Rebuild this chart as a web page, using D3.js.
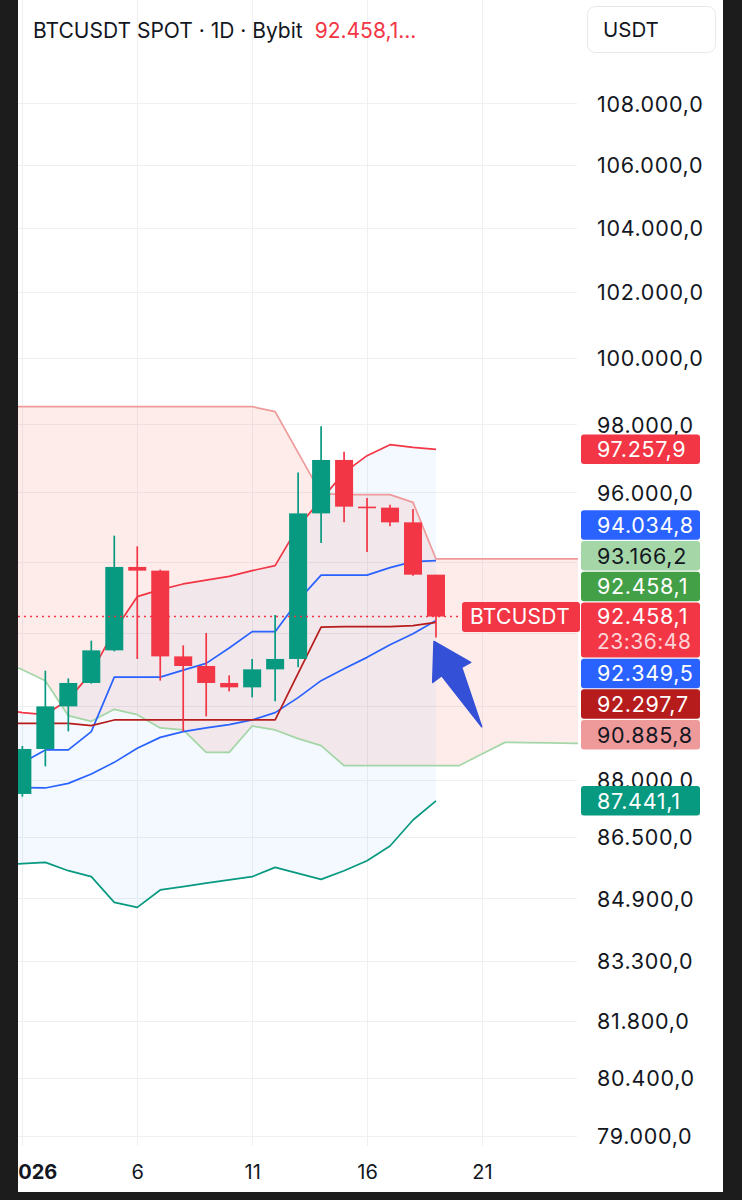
<!DOCTYPE html>
<html>
<head>
<meta charset="utf-8">
<script src="https://cdn.jsdelivr.net/npm/d3@7"></script>
<style>
html, body { margin: 0; padding: 0; background: #fff; }
svg { display: block; font-family: Inter, "Noto Sans", sans-serif; }
</style>
</head>
<body>
<div id="chart"></div>
<script>
var w = 742;
var h = 1200;

// daily bars, day of January 2026
var days  = [1, 2, 3, 4, 5, 6, 7, 8, 9, 10, 11, 12, 13, 14, 15, 16, 17, 18, 19];
var open  = [87624, 88825, 89978, 90618, 91517, 93857, 93752, 91350, 91085, 90618, 90498, 90992, 91279, 95392, 96947, 95586, 95557, 95133, 93638];
var high  = [88906, 90956, 90744, 91786, 94750, 94444, 93780, 91655, 92000, 90827, 91279, 92503, 96583, 97938, 97191, 95837, 95643, 95519, 93638];
var low   = [87552, 88359, 89300, 90600, 91489, 91279, 90681, 89300, 89706, 90388, 90224, 90115, 91047, 94541, 95133, 94283, 95018, 93610, 91877];
var close = [88825, 89978, 90618, 91517, 93857, 93752, 91350, 91085, 90618, 90498, 90992, 91279, 95392, 96947, 95586, 95557, 95133, 93638, 92458.1];

// indicator values (0 = Dec 31)
var indDays    = [0, 1, 2, 3, 4, 5, 6, 7, 8, 9, 10, 11, 12, 13, 14, 15, 16, 17, 18, 19];
var bbUpper    = [89916, 89807, 89752, 90161, 90901, 92064, 93017, 93214, 93375, 93482, 93590, 93752, 93894, 95009, 95788, 96575, 97073, 97397, 97317, 97257.9];
var bbBasis    = [87804, 87791, 87783, 87905, 88156, 88466, 88842, 89138, 89292, 89392, 89481, 89609, 89807, 90216, 90681, 91011, 91323, 91675, 91980, 92349.5];
var bbLower    = [85768, 85794, 85828, 85612, 85457, 84795, 84667, 85114, 85201, 85289, 85374, 85457, 85698, 85543, 85387, 85612, 85872, 86255, 86936, 87441.1];
var conversion = [88297, 88458, 88799, 88799, 89292, 90777, 90777, 90777, 90970, 91157, 91583, 92036, 92036, 92904, 93624, 93624, 93624, 93837, 94007, 94034.8];
var baseLine   = [89516, 89516, 89516, 89516, 89454, 89609, 89609, 89609, 89609, 89609, 89609, 89609, 89609, 90882, 92162, 92176, 92176, 92176, 92204, 92297.7];

// ichimoku cloud, shifted forward
var cloudDays = [0, 1, 2, 3, 4, 5, 6, 7, 8, 9, 10, 11, 12, 13, 14, 15, 16, 17, 18, 19, 20, 21, 22, 23, 24, 25, 26];
var leadA = [91232, 90984, 90681, 89725, 89571, 89897, 89752, 89392, 89338, 88734, 88734, 89446, 89338, 89103, 88914, 88377, 88377, 88377, 88377, 88377, 88377, 88691, 89003, 88995, 88987, 88976, 88968];
var leadB = [98524, 98524, 98524, 98524, 98524, 98524, 98524, 98524, 98524, 98524, 98524, 98524, 98375, 97161, 95963, 95934, 95934, 95934, 95710, 94084, 94084, 94084, 94084, 94084, 94084, 94084, 94084];

// price scale labels
var tagValues = [97257.9, 94034.8, 93166.2, 92458.1, 92349.5, 92297.7, 90885.8, 87441.1];
var tagColors = ["#f23645", "#2962ff", "#a5d6a7", "#43a047", "#2962ff", "#b71c1c", "#ef9a9a", "#089981"];
var tagInk    = ["#fff", "#fff", "#131722", "#fff", "#fff", "#fff", "#131722", "#fff"];
var countdown = "23:36:48";

var yTicks = [108000, 106000, 104000, 102000, 100000, 98000, 96000, 94000, 92000, 90000, 88000, 86500, 84900, 83300, 81800, 80400, 79000];
var xTicks = [1, 6, 11, 16, 21];
var xTickLabels = ["2026", "6", "11", "16", "21"];

var up = "#089981";
var down = "#f23645";
var paneL = 18, paneR = 578, paneB = 1146;

var fmt = d3.formatLocale({decimal: ",", thousands: ".", grouping: [3], currency: ["", ""]}).format(",.1f");

var x = d3.scaleLinear().domain([0.81, 25.18]).range([paneL, paneR]);
var y = d3.scaleLog().domain([79000, 108000]).range([1136.2, 103.3]);

var svg = d3.select("#chart")
    .append("svg")
    .attr("width", w)
    .attr("height", h);

svg.append("rect").attr("width", w).attr("height", h).attr("fill", "#fff");

svg.append("defs").append("clipPath").attr("id", "pane")
    .append("rect").attr("x", paneL).attr("y", 0).attr("width", paneR - paneL).attr("height", paneB);

// grid
svg.append("g").selectAll("line")
    .data(yTicks).enter().append("line")
    .attr("x1", paneL).attr("x2", paneR - 1)
    .attr("y1", function(d) { return Math.round(y(d)) + 0.5; })
    .attr("y2", function(d) { return Math.round(y(d)) + 0.5; })
    .attr("stroke", "#eef0f4");

svg.append("g").selectAll("line")
    .data(xTicks).enter().append("line")
    .attr("y1", 0).attr("y2", paneB)
    .attr("x1", function(d) { return Math.round(x(d)) + 0.5; })
    .attr("x2", function(d) { return Math.round(x(d)) + 0.5; })
    .attr("stroke", "#eef0f4");

var pane = svg.append("g").attr("clip-path", "url(#pane)");

// cloud
var cloud = cloudDays.map(function(d, i) { return {d: d, a: leadA[i], b: leadB[i]}; });
pane.append("path")
    .datum(cloud)
    .attr("d", d3.area()
        .x(function(p) { return x(p.d); })
        .y0(function(p) { return y(p.a); })
        .y1(function(p) { return y(p.b); }))
    .attr("fill", "rgba(244,67,54,0.1)");

// bollinger fill
var ind = indDays.map(function(d, i) {
    return {d: d, up: bbUpper[i], mid: bbBasis[i], lo: bbLower[i], conv: conversion[i], base: baseLine[i]};
});
pane.append("path")
    .datum(ind)
    .attr("d", d3.area()
        .x(function(p) { return x(p.d); })
        .y0(function(p) { return y(p.lo); })
        .y1(function(p) { return y(p.up); }))
    .attr("fill", "rgba(33,150,243,0.055)");

function drawLine(data, xf, yf, color) {
    pane.append("path")
        .datum(data)
        .attr("d", d3.line().x(xf).y(yf))
        .attr("fill", "none")
        .attr("stroke", color)
        .attr("stroke-width", 1.7)
        .attr("stroke-linejoin", "round");
}

drawLine(cloud, function(p) { return x(p.d); }, function(p) { return y(p.a); }, "#a5d6a7");
drawLine(cloud, function(p) { return x(p.d); }, function(p) { return y(p.b); }, "#ef9a9a");
drawLine(ind, function(p) { return x(p.d); }, function(p) { return y(p.up); }, "#f23645");
drawLine(ind, function(p) { return x(p.d); }, function(p) { return y(p.lo); }, "#089981");
drawLine(ind, function(p) { return x(p.d); }, function(p) { return y(p.mid); }, "#2962ff");
drawLine(ind, function(p) { return x(p.d); }, function(p) { return y(p.conv); }, "#2962ff");
drawLine(ind, function(p) { return x(p.d); }, function(p) { return y(p.base); }, "#b71c1c");

// candles
var bars = days.map(function(d, i) {
    return {d: d, o: open[i], h: high[i], l: low[i], c: close[i]};
});
var bw = 18;
var candle = pane.selectAll("g.candle")
    .data(bars).enter().append("g")
    .attr("class", "candle");

candle.append("line")
    .attr("x1", function(b) { return x(b.d); })
    .attr("x2", function(b) { return x(b.d); })
    .attr("y1", function(b) { return y(b.h); })
    .attr("y2", function(b) { return y(b.l); })
    .attr("stroke", function(b) { return b.c >= b.o ? up : down; })
    .attr("stroke-width", 1.7);

candle.append("rect")
    .attr("x", function(b) { return x(b.d) - bw / 2; })
    .attr("width", bw)
    .attr("y", function(b) { return y(Math.max(b.o, b.c)); })
    .attr("height", function(b) { return Math.max(1.6, y(Math.min(b.o, b.c)) - y(Math.max(b.o, b.c))); })
    .attr("fill", function(b) { return b.c >= b.o ? up : down; });

// last price line
var last = bars[bars.length - 1];
var lastY = y(last.c);
svg.append("line")
    .attr("x1", paneL).attr("x2", 462)
    .attr("y1", lastY).attr("y2", lastY)
    .attr("stroke", down)
    .attr("stroke-width", 1.5)
    .attr("stroke-dasharray", "2,4");

// symbol tag
var symTag = svg.append("g");
symTag.append("rect")
    .attr("x", 462).attr("y", lastY - 14.5)
    .attr("width", 118).attr("height", 30)
    .attr("rx", 3)
    .attr("fill", down);
symTag.append("text")
    .attr("x", 520).attr("y", lastY)
    .attr("dy", "0.36em")
    .attr("text-anchor", "middle")
    .attr("fill", "#fff")
    .style("font-size", "21px")
    .style("letter-spacing", "0.3px")
    .text("BTCUSDT");

// arrow annotation pointing at the last low
var ax = x(last.d) - 2, ay = y(last.l) + 4;
var arrowPts = [[0, 0], [36.7, 21], [27.7, 26], [47.7, 85.3], [7.7, 34.3], [-1.3, 41]];
svg.append("path")
    .attr("d", d3.line()(arrowPts.map(function(p) { return [ax + p[0], ay + p[1]]; })) + "Z")
    .attr("fill", "#3350d6")
    .attr("stroke", "#3350d6")
    .attr("stroke-width", 1.5)
    .attr("stroke-linejoin", "round");

// price tags, stacked around the main one
var th = 29.5, gap = 1.2;
var mainTop = lastY - 14.1, mainH = 55;
var tags = tagValues.map(function(v, i) { return {v: v, fill: tagColors[i], ink: tagInk[i]}; });
var above = tags.filter(function(t) { return t.v >= last.c; }).sort(function(a, b) { return a.v - b.v; });
var below = tags.filter(function(t) { return t.v < last.c; }).sort(function(a, b) { return b.v - a.v; });
var limit = mainTop - gap;
above.forEach(function(t) {
    t.top = Math.min(y(t.v) - th / 2, limit - th);
    limit = t.top - gap;
});
limit = mainTop + mainH + gap;
below.forEach(function(t) {
    t.top = Math.max(y(t.v) - th / 2, limit);
    limit = t.top + th + gap;
});
var boxes = above.concat(below).map(function(t) { return [t.top, t.top + th]; });
boxes.push([mainTop, mainTop + mainH]);

// price axis, labels under a tag are hidden
var shownTicks = yTicks.filter(function(v) {
    var ty = y(v);
    return !boxes.some(function(b) { return ty > b[0] - 4 && ty < b[1] + 4; });
});
var yAxis = svg.append("g")
    .attr("transform", "translate(597,0)")
    .call(d3.axisRight(y).tickValues(shownTicks).tickFormat(fmt).tickSize(0).tickPadding(0));
yAxis.select(".domain").remove();
yAxis.attr("font-family", null).attr("font-size", null);
yAxis.selectAll("text")
    .attr("dy", "0.36em")
    .attr("fill", "#131722")
    .style("font-size", "21.5px")
    .style("letter-spacing", "0.7px");

var tagG = svg.append("g").selectAll("g")
    .data(above.concat(below)).enter().append("g");
tagG.append("rect")
    .attr("x", 581).attr("width", 119)
    .attr("y", function(t) { return t.top; })
    .attr("height", th)
    .attr("rx", 3)
    .attr("fill", function(t) { return t.fill; });
tagG.append("text")
    .attr("x", 597)
    .attr("y", function(t) { return t.top + th / 2; })
    .attr("dy", "0.36em")
    .attr("fill", function(t) { return t.ink; })
    .style("font-size", "21.5px")
    .style("letter-spacing", "0.7px")
    .text(function(t) { return fmt(t.v); });

var mainTag = svg.append("g");
mainTag.append("rect")
    .attr("x", 581).attr("width", 119)
    .attr("y", mainTop).attr("height", mainH)
    .attr("rx", 3)
    .attr("fill", down);
mainTag.append("text")
    .attr("x", 597).attr("y", lastY)
    .attr("dy", "0.36em")
    .attr("fill", "#fff")
    .style("font-size", "21.5px")
    .style("letter-spacing", "0.7px")
    .text(fmt(last.c));
mainTag.append("text")
    .attr("x", 597).attr("y", lastY + 25)
    .attr("dy", "0.36em")
    .attr("fill", "rgba(255,255,255,0.78)")
    .style("font-size", "21px")
    .style("letter-spacing", "0.5px")
    .text(countdown);

// time axis
var xAxis = svg.append("g")
    .attr("transform", "translate(0," + paneB + ")")
    .call(d3.axisBottom(x).tickValues(xTicks).tickFormat(function(d, i) { return xTickLabels[i]; }).tickSize(0).tickPadding(0));
xAxis.select(".domain").remove();
xAxis.attr("font-family", null).attr("font-size", null);
xAxis.selectAll("text")
    .attr("y", 26)
    .attr("dy", "0.36em")
    .attr("fill", "#131722")
    .style("font-size", "20px")
    .style("font-weight", function(d, i) { return i === 0 ? "700" : "400"; })
    .attr("x", function(d, i) { return i === 0 ? Math.max(0, 31 - x(d)) : 0; });

// header
var title = svg.append("text")
    .attr("x", 33).attr("y", 38)
    .attr("fill", "#131722")
    .style("font-size", "21px")
    .text("BTCUSDT SPOT · 1D · Bybit");
title.append("tspan")
    .attr("dx", 12)
    .attr("fill", down)
    .text(fmt(last.c) + "...");

svg.append("rect")
    .attr("x", 587.5).attr("y", 6.5)
    .attr("width", 128).attr("height", 46)
    .attr("rx", 8)
    .attr("fill", "#fff")
    .attr("stroke", "#e6e8ee");
svg.append("text")
    .attr("x", 603).attr("y", 37)
    .attr("fill", "#131722")
    .style("font-size", "20.5px")
    .text("USDT");

// screenshot frame
svg.append("rect").attr("x", 0).attr("y", 0).attr("width", paneL).attr("height", h).attr("fill", "#1c1c1c");
svg.append("rect").attr("x", 723).attr("y", 0).attr("width", w - 723).attr("height", h).attr("fill", "#1c1c1c");
svg.append("rect").attr("x", 0).attr("y", 1192).attr("width", w).attr("height", h - 1192).attr("fill", "#1c1c1c");
</script>
</body>
</html>
